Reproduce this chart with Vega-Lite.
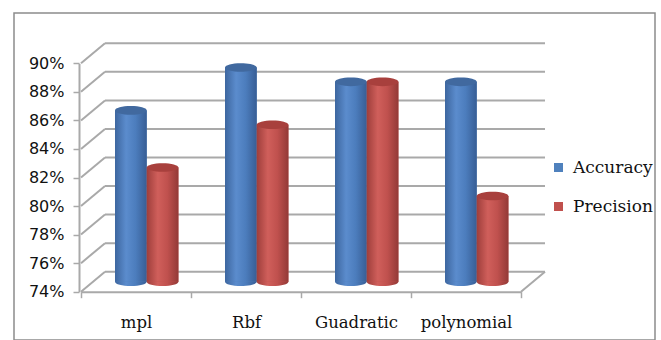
{
  "$schema": "https://vega.github.io/schema/vega-lite/v6.json",
  "width": 641,
  "height": 327,
  "autosize": {"type": "none"},
  "padding": {"left": 14, "top": 13, "right": 6, "bottom": 0},
  "background": "#ffffff",
  "config": {
    "view": {"stroke": "#8c8c8c", "strokeWidth": 1.5},
    "legend": {
      "orient": "none",
      "legendX": 536,
      "legendY": 146,
      "padding": 0,
      "labelFont": "DejaVu Serif",
      "labelFontSize": 17,
      "labelColor": "#111111",
      "labelOffset": 6,
      "symbolType": "square",
      "symbolSize": 81,
      "symbolStrokeWidth": 0,
      "rowPadding": 21,
      "title": null
    }
  },
  "datasets": {
    "scores": [
      {"model": "mpl", "series": "Accuracy", "value": 0.86},
      {"model": "mpl", "series": "Precision", "value": 0.82},
      {"model": "Rbf", "series": "Accuracy", "value": 0.89},
      {"model": "Rbf", "series": "Precision", "value": 0.85},
      {"model": "Guadratic", "series": "Accuracy", "value": 0.88},
      {"model": "Guadratic", "series": "Precision", "value": 0.88},
      {"model": "polynomial", "series": "Accuracy", "value": 0.88},
      {"model": "polynomial", "series": "Precision", "value": 0.80}
    ],
    "grid": [
      {"v": 0.74}, {"v": 0.76}, {"v": 0.78}, {"v": 0.80}, {"v": 0.82},
      {"v": 0.84}, {"v": 0.86}, {"v": 0.88}, {"v": 0.90}
    ]
  },
  "layer": [
    {
      "data": {"name": "grid"},
      "mark": {"type": "rule", "color": "#a9a9a9", "strokeWidth": 2, "xOffset": -31, "x2Offset": 79, "yOffset": -20},
      "encoding": {
        "x": {"datum": "mpl", "type": "nominal",
          "scale": {"domain": ["mpl", "Rbf", "Guadratic", "polynomial"], "range": [67, 507], "paddingInner": 0, "paddingOuter": 0},
          "axis": {"orient": "bottom", "offset": -48.3, "tickBand": "extent", "tickSize": 6, "tickWidth": 1.5, "tickColor": "#a9a9a9",
            "domainColor": "#a9a9a9", "domainWidth": 2, "labelFont": "DejaVu Serif", "labelFontSize": 16.5, "labelColor": "#111111",
            "labelPadding": 17, "labelAngle": 0, "grid": false, "title": null}},
        "x2": {"datum": "polynomial"},
        "y": {"field": "v", "type": "quantitative",
          "scale": {"domain": [0.74, 0.90], "range": [278.7, 50.3], "zero": false, "nice": false},
          "axis": {"orient": "left", "offset": -65, "values": [0.74, 0.76, 0.78, 0.80, 0.82, 0.84, 0.86, 0.88, 0.90], "format": ".0%",
            "domainColor": "#a9a9a9", "domainWidth": 2, "tickColor": "#a9a9a9", "tickWidth": 1.5, "tickSize": 6,
            "labelFont": "DejaVu Sans", "labelFontSize": 16, "labelColor": "#111111", "labelPadding": 9, "grid": false, "title": null}}
      }
    },
    {
      "data": {"name": "grid"},
      "mark": {"type": "rule", "color": "#a9a9a9", "strokeWidth": 2, "xOffset": -55, "x2Offset": -31, "y2Offset": -20},
      "encoding": {
        "x": {"datum": "mpl", "type": "nominal"},
        "x2": {"datum": "mpl"},
        "y": {"field": "v", "type": "quantitative"},
        "y2": {"field": "v"}
      }
    },
    {
      "data": {"values": [{"edge": "floor"}]},
      "mark": {"type": "rule", "color": "#a9a9a9", "strokeWidth": 2, "xOffset": 55, "x2Offset": 79, "y2Offset": -20},
      "encoding": {
        "x": {"datum": "polynomial", "type": "nominal"},
        "x2": {"datum": "polynomial"},
        "y": {"datum": 0.74, "type": "quantitative"},
        "y2": {"datum": 0.74}
      }
    },
    {
      "data": {"name": "scores"},
      "mark": {"type": "point", "filled": true, "opacity": 1, "size": 1005, "yOffset": -10,
        "shape": "M -1 0 A 1 0.27 0 1 0 1 0 A 1 0.27 0 1 0 -1 0 Z"},
      "encoding": {
        "x": {"field": "model", "type": "nominal"},
        "xOffset": {"field": "series", "type": "nominal", "scale": {"range": [34, 97.4], "paddingInner": 0, "paddingOuter": 0}},
        "y": {"datum": 0.74, "type": "quantitative"},
        "fill": {
          "condition": {"test": "datum.series === 'Accuracy'",
            "value": {"gradient": "linear", "x1": 0, "x2": 1, "y1": 0, "y2": 0,
              "stops": [{"offset": 0, "color": "#3d669f"}, {"offset": 0.35, "color": "#5b8ccd"}, {"offset": 0.65, "color": "#4c7dbd"}, {"offset": 1, "color": "#385e95"}]}},
          "value": {"gradient": "linear", "x1": 0, "x2": 1, "y1": 0, "y2": 0,
            "stops": [{"offset": 0, "color": "#9e3e3b"}, {"offset": 0.35, "color": "#d05f5b"}, {"offset": 0.65, "color": "#c0514e"}, {"offset": 1, "color": "#933936"}]}
        }
      }
    },
    {
      "data": {"name": "scores"},
      "mark": {"type": "bar", "yOffset": -10, "y2Offset": -10},
      "encoding": {
        "x": {"field": "model", "type": "nominal"},
        "xOffset": {"field": "series", "type": "nominal"},
        "y": {"field": "value", "type": "quantitative"},
        "y2": {"datum": 0.74},
        "color": {"field": "series", "type": "nominal", "scale": {"domain": ["Accuracy", "Precision"], "range": ["#4f81bd", "#c0504d"]}}
      }
    },
    {
      "data": {"name": "scores"},
      "mark": {"type": "bar", "yOffset": -10, "y2Offset": -10},
      "encoding": {
        "x": {"field": "model", "type": "nominal"},
        "xOffset": {"field": "series", "type": "nominal"},
        "y": {"field": "value", "type": "quantitative"},
        "y2": {"datum": 0.74},
        "fill": {
          "condition": {"test": "datum.series === 'Accuracy'",
            "value": {"gradient": "linear", "x1": 0, "x2": 1, "y1": 0, "y2": 0,
              "stops": [{"offset": 0, "color": "#3d669f"}, {"offset": 0.35, "color": "#5b8ccd"}, {"offset": 0.65, "color": "#4c7dbd"}, {"offset": 1, "color": "#385e95"}]}},
          "value": {"gradient": "linear", "x1": 0, "x2": 1, "y1": 0, "y2": 0,
            "stops": [{"offset": 0, "color": "#9e3e3b"}, {"offset": 0.35, "color": "#d05f5b"}, {"offset": 0.65, "color": "#c0514e"}, {"offset": 1, "color": "#933936"}]}
        }
      }
    },
    {
      "data": {"name": "scores"},
      "mark": {"type": "point", "filled": true, "opacity": 1, "size": 1005, "yOffset": -10,
        "shape": "M -1 0 A 1 0.27 0 1 0 1 0 A 1 0.27 0 1 0 -1 0 Z"},
      "encoding": {
        "x": {"field": "model", "type": "nominal"},
        "xOffset": {"field": "series", "type": "nominal"},
        "y": {"field": "value", "type": "quantitative"},
        "fill": {
          "condition": {"test": "datum.series === 'Accuracy'", "value": "#41699f"},
          "value": "#a8403d"
        }
      }
    }
  ]
}
